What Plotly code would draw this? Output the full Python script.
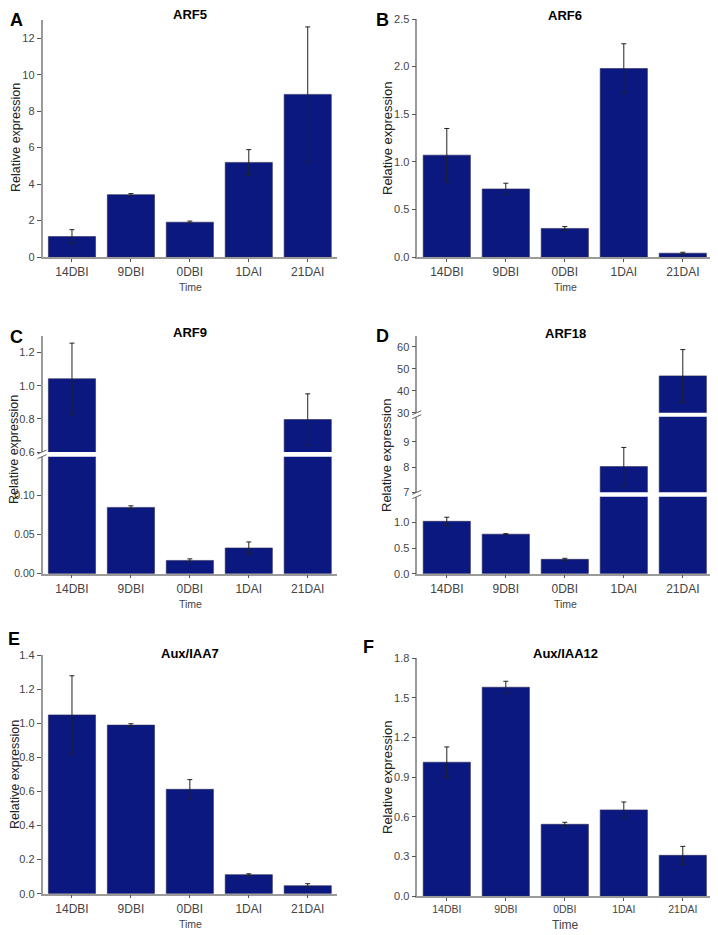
import plotly.graph_objects as go

# ---------------- data ----------------
categories = ["14DBI", "9DBI", "0DBI", "1DAI", "21DAI"]

arf5_mean = [1.12, 3.42, 1.91, 5.19, 8.92]
arf5_err = [0.38, 0.06, 0.06, 0.70, 3.70]

arf6_mean = [1.07, 0.715, 0.30, 1.98, 0.04]
arf6_err = [0.28, 0.06, 0.02, 0.26, 0.01]

arf9_mean = [1.042, 0.085, 0.017, 0.033, 0.796]
arf9_err = [0.215, 0.002, 0.002, 0.0077, 0.155]

arf18_mean = [1.02, 0.77, 0.28, 8.02, 46.8]
arf18_err = [0.08, 0.01, 0.02, 0.76, 12.0]

iaa7_mean = [1.05, 0.99, 0.613, 0.112, 0.047]
iaa7_err = [0.23, 0.008, 0.057, 0.005, 0.012]

iaa12_mean = [1.013, 1.581, 0.543, 0.652, 0.308]
iaa12_err = [0.116, 0.045, 0.015, 0.06, 0.068]

titles = ["ARF5", "ARF6", "ARF9", "ARF18", "Aux/IAA7", "Aux/IAA12"]
letters = ["A", "B", "C", "D", "E", "F"]

# tick values for each y-axis segment
ticks_a = [0, 2, 4, 6, 8, 10, 12]
ticks_b = [0.0, 0.5, 1.0, 1.5, 2.0, 2.5]
ticks_c_low = [0.00, 0.05, 0.10]
ticks_c_up = [0.6, 0.8, 1.0, 1.2]
ticks_d_low = [0.0, 0.5, 1.0]
ticks_d_mid = [7, 8, 9]
ticks_d_up = [30, 40, 50, 60]
ticks_e = [0.0, 0.2, 0.4, 0.6, 0.8, 1.0, 1.2, 1.4]
ticks_f = [0.0, 0.3, 0.6, 0.9, 1.2, 1.5, 1.8]

# ---------------- styling ----------------
OFF = 8  # default page body margin
W, H = 718 - OFF, 935 - OFF
BAR = "#0b1880"
AX = "#9a9a9a"
TXT = "#444444"
FONT = "Liberation Sans, Arial, sans-serif"


def fx(p):
    return (p - OFF) / W


def fy(p):
    return 1 - (p - OFF) / H


fig = go.Figure()


def add_bars(xa, ya, mean, err):
    fig.add_trace(go.Bar(
        x=categories, y=mean, xaxis=xa, yaxis=ya, width=0.8,
        marker=dict(color=BAR, line=dict(color="#2a2a55", width=0.6)),
        error_y=dict(type="data", array=err, color="#222222", thickness=1, width=2.5),
        showlegend=False, hoverinfo="x+y",
    ))


def yaxis_def(domain_px, rng, tickvals, anchor, fmt=None, size=11):
    d = dict(
        domain=[fy(domain_px[1]), fy(domain_px[0])], range=rng,
        tickmode="array", tickvals=tickvals,
        anchor=anchor, showline=True, linecolor=AX, linewidth=1.5,
        ticks="outside", ticklen=4, tickcolor="#555555", tickwidth=1,
        showgrid=False, zeroline=False, automargin=False,
        tickfont=dict(family=FONT, size=size, color=TXT),
    )
    if fmt:
        d["tickformat"] = fmt
    return d


def xaxis_def(x0, x1, anchor, size=12):
    return dict(
        domain=[fx(x0), fx(x1)], range=[-0.5, 4.5], type="category", anchor=anchor,
        showline=True, linecolor=AX, linewidth=1.5, ticks="outside", ticklen=3,
        tickcolor="#555555", showgrid=False, zeroline=False, automargin=False,
        tickfont=dict(family=FONT, size=size, color=TXT),
    )


LX = (42.5, 337.2)
RX = (417.3, 712.3)

layout = {}
# Panel A
add_bars("x", "y", arf5_mean, arf5_err)
layout["xaxis"] = xaxis_def(*LX, "y")
layout["yaxis"] = yaxis_def((20, 257), [0, 13], ticks_a, "x")
# Panel B
add_bars("x2", "y2", arf6_mean, arf6_err)
layout["xaxis2"] = xaxis_def(*RX, "y2")
layout["yaxis2"] = yaxis_def((19, 257), [0, 2.5], ticks_b, "x2", ".1f")
# Panel C (broken axis)
add_bars("x3", "y3", arf9_mean, arf9_err)
add_bars("x3", "y4", arf9_mean, arf9_err)
layout["xaxis3"] = xaxis_def(*LX, "y3")
layout["yaxis3"] = yaxis_def((456.7, 573.7), [0, 0.15], ticks_c_low, "x3", ".2f", size=10.5)
layout["yaxis4"] = yaxis_def((336, 452), [0.6, 1.3], ticks_c_up, "x3", ".1f")
# Panel D (two breaks)
add_bars("x4", "y5", arf18_mean, arf18_err)
add_bars("x4", "y6", arf18_mean, arf18_err)
add_bars("x4", "y7", arf18_mean, arf18_err)
layout["xaxis4"] = xaxis_def(*RX, "y5")
layout["yaxis5"] = yaxis_def((496.7, 573.7), [0, 1.5], ticks_d_low, "x4", ".1f")
layout["yaxis6"] = yaxis_def((416.7, 492.3), [7, 10], ticks_d_mid, "x4")
layout["yaxis7"] = yaxis_def((336, 412.7), [30, 65], ticks_d_up, "x4")
# Panel E
add_bars("x5", "y8", iaa7_mean, iaa7_err)
layout["xaxis5"] = xaxis_def(*LX, "y8")
layout["yaxis8"] = yaxis_def((655.3, 893.7), [0, 1.4], ticks_e, "x5", ".1f")
# Panel F
add_bars("x6", "y9", iaa12_mean, iaa12_err)
layout["xaxis6"] = xaxis_def(*RX, "y9", size=10.5)
layout["yaxis9"] = yaxis_def((658.3, 896), [0, 1.8], ticks_f, "x6", ".1f")

# ---------------- annotations ----------------
ann = []
panel_geo = [
    # letter pos, title pos, ytitle pos, xtitle pos
    ((16, 20), (190, 15), (16, 138), (190, 287)),
    ((382, 20), (565, 16), (387, 138), (565, 287)),
    ((16, 337), (190, 332), (14, 450), (190, 604)),
    ((382, 336), (565, 333), (387, 455), (565, 604)),
    ((14, 639), (190, 653), (15, 775), (190, 924)),
    ((368, 647), (565, 653), (387, 777), (565, 925)),
]
for i, (lp, tp, yp, xp) in enumerate(panel_geo):
    ann.append(dict(text="<b>%s</b>" % letters[i], x=fx(lp[0]), y=fy(lp[1]), xref="paper", yref="paper",
                    showarrow=False, xanchor="center", yanchor="middle",
                    font=dict(family=FONT, size=18, color="#000000")))
    ann.append(dict(text="<b>%s</b>" % titles[i], x=fx(tp[0]), y=fy(tp[1]), xref="paper", yref="paper",
                    showarrow=False, xanchor="center", yanchor="middle",
                    font=dict(family=FONT, size=13, color="#000000")))
    ann.append(dict(text="Relative expression", x=fx(yp[0]), y=fy(yp[1]), xref="paper", yref="paper",
                    showarrow=False, xanchor="center", yanchor="middle", textangle=-90,
                    font=dict(family=FONT, size=13 if i % 2 else 12.5, color="#222222")))
    ann.append(dict(text="Time", x=fx(xp[0]), y=fy(xp[1]), xref="paper", yref="paper",
                    showarrow=False, xanchor="center", yanchor="middle",
                    font=dict(family=FONT, size=12 if i == 5 else 10.5, color=TXT)))

# break marks on broken axes
shapes = []
breaks = [(42.5, 452, 456.7), (417.3, 412.7, 416.7), (417.3, 492.3, 496.7)]
for xb, ytop, ybot in breaks:
    for yy in (ytop, ybot):
        shapes.append(dict(type="line", xref="paper", yref="paper",
                           x0=fx(xb - 5), y0=fy(yy + 2), x1=fx(xb + 4), y1=fy(yy - 2),
                           line=dict(color="#666666", width=1)))

fig.update_layout(
    width=W, height=H, margin=dict(l=0, r=0, t=0, b=0),
    paper_bgcolor="white", plot_bgcolor="white",
    annotations=ann, shapes=shapes, bargap=0.2,
    font=dict(family=FONT),
    **layout,
)

fig.write_html("out.html")
